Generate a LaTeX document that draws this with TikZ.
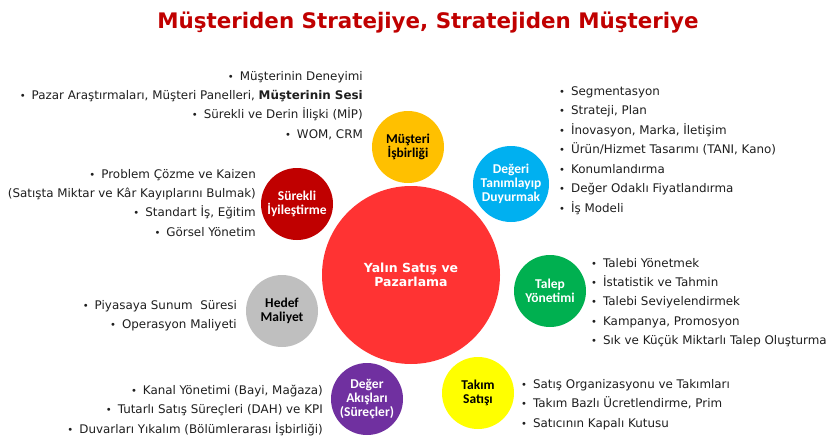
\documentclass[tikz,border=0pt]{standalone}
\usepackage{fontspec}
\setmainfont{DejaVu Sans}
\newfontfamily\bubblefont{Carlito}
\definecolor{titlered}{HTML}{C00000}
\definecolor{listgray}{HTML}{1E1E1E}
\definecolor{amber}{HTML}{FFC000}
\definecolor{skyblue}{HTML}{00B0F0}
\definecolor{darkred}{HTML}{C00000}
\definecolor{hubred}{HTML}{FF3333}
\definecolor{leafgreen}{HTML}{00B050}
\definecolor{silver}{HTML}{BFBFBF}
\definecolor{plum}{HTML}{7030A0}
\definecolor{lemon}{HTML}{FFFF00}
\newcommand\itm{{\fontsize{10}{12}\selectfont•}\hspace{6pt}}
\tikzset{
  bubble/.style={circle,inner sep=0pt,minimum size=72pt,align=center,
    font=\bubblefont\bfseries\fontsize{13.5}{14}\selectfont},
  listline/.style={inner sep=0pt,text=listgray,font=\fontsize{11.9}{14}\selectfont}
}

\begin{document}
\begin{tikzpicture}[
  x=1pt,
  y=-1pt,
  hubbubble/.style={
    circle,
    fill=hubred,
    inner sep=0pt,
    minimum size=178pt,
    align=center,
    text=white,
    font=\bfseries\fontsize{12.5}{14}\selectfont
  },
  titletext/.style={
    inner sep=0pt,
    text=titlered,
    font=\bfseries\fontsize{21.4}{24}\selectfont
  }
]
\useasboundingbox (0,0) rectangle (835,442);

  % --------------------------------------------------------------
  % Title
  % --------------------------------------------------------------
  \node[titletext,anchor=base] (title) at (428,28)
    {Müşteriden Stratejiye, Stratejiden Müşteriye};

  % --------------------------------------------------------------
  % The hub and the eight bubbles round it.
  % --------------------------------------------------------------
  \node[hubbubble] (hub) at (411,275) {Yalın Satış ve\\Pazarlama};

  \node[bubble,fill=amber] (cust) at (408,147) {Müşteri\\İşbirliği};
  \node[bubble,fill=skyblue,text=white,minimum size=76pt] (value) at (511,184)
    {Değeri\\Tanımlayıp\\Duyurmak};
  \node[bubble,fill=darkred,text=white] (improve) at (297,204)
    {Sürekli\\İyileştirme};
  \node[bubble,fill=leafgreen,text=white] (demand) at (550,291)
    {Talep\\Yönetimi};
  \node[bubble,fill=silver] (cost) at (282,311) {Hedef\\Maliyet};
  \node[bubble,fill=plum,text=white] (flow) at (367,399)
    {Değer\\Akışları\\(Süreçler)};
  \node[bubble,fill=lemon] (team) at (478,393) {Takım\\Satışı};

  % --------------------------------------------------------------
  % Lists beside the bubbles (one node per line).
  % --------------------------------------------------------------
  \foreach \t [count=\i from 0] in {
      {\itm Müşterinin Deneyimi},
      {\itm Pazar Araştırmaları, Müşteri Panelleri, \textbf{Müşterinin Sesi}},
      {\itm Sürekli ve Derin İlişki (MİP)},
      {\itm WOM, CRM}}
    {\node[listline,anchor=base east] (cust\i) at (363,80+19.4*\i) {\t};}

  \foreach \t [count=\i from 0] in {
      {\itm Problem Çözme ve Kaizen},
      {(Satışta Miktar ve Kâr Kayıplarını Bulmak)},
      {\itm Standart İş, Eğitim},
      {\itm Görsel Yönetim}}
    {\node[listline,anchor=base east] (improve\i) at (256,178+19.4*\i) {\t};}

  \foreach \t [count=\i from 0] in {
      {\itm Segmentasyon},
      {\itm Strateji, Plan},
      {\itm İnovasyon, Marka, İletişim},
      {\itm Ürün/Hizmet Tasarımı (TANI, Kano)},
      {\itm Konumlandırma},
      {\itm Değer Odaklı Fiyatlandırma},
      {\itm İş Modeli}}
    {\node[listline,anchor=base west] (value\i) at (559,95+19.5*\i) {\t};}

  \foreach \t [count=\i from 0] in {
      {\itm Talebi Yönetmek},
      {\itm İstatistik ve Tahmin},
      {\itm Talebi Seviyelendirmek},
      {\itm Kampanya, Promosyon},
      {\itm Sık ve Küçük Miktarlı Talep Oluşturma}}
    {\node[listline,anchor=base west] (demand\i) at (591,267+19.4*\i) {\t};}

  \foreach \t [count=\i from 0] in {
      {\itm Piyasaya Sunum\ \ Süresi},
      {\itm Operasyon Maliyeti}}
    {\node[listline,anchor=base east] (cost\i) at (237,309+19.6*\i) {\t};}

  \foreach \t [count=\i from 0] in {
      {\itm Kanal Yönetimi (Bayi, Mağaza)},
      {\itm Tutarlı Satış Süreçleri (DAH) ve KPI},
      {\itm Duvarları Yıkalım (Bölümlerarası İşbirliği)}}
    {\node[listline,anchor=base east] (flow\i) at (323,394+19.5*\i) {\t};}

  \foreach \t [count=\i from 0] in {
      {\itm Satış Organizasyonu ve Takımları},
      {\itm Takım Bazlı Ücretlendirme, Prim},
      {\itm Satıcının Kapalı Kutusu}}
    {\node[listline,anchor=base west] (team\i) at (521,388+19.5*\i) {\t};}

\end{tikzpicture}
\end{document}
